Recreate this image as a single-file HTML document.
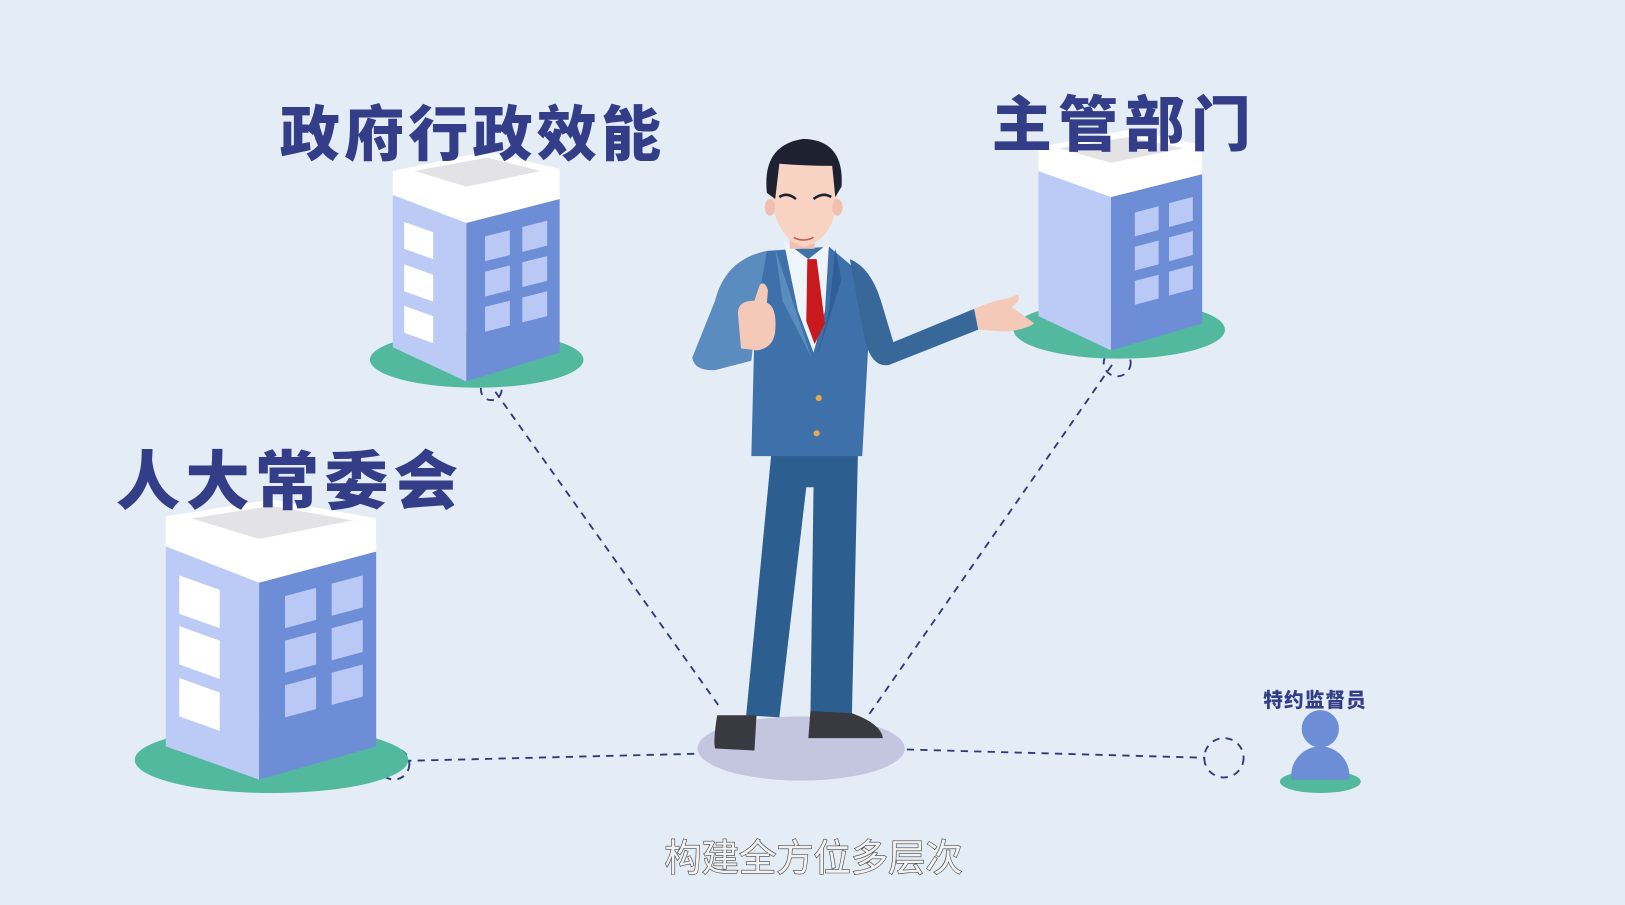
<!DOCTYPE html>
<html><head><meta charset="utf-8"><style>
html,body{margin:0;padding:0;background:#e4edf5;}
svg{display:block}
.t{font-family:"Liberation Sans","Noto Sans CJK SC",sans-serif;font-weight:900;fill:#343d88;}
</style></head><body>
<svg width="1625" height="905" viewBox="0 0 1568 873" preserveAspectRatio="none" xmlns="http://www.w3.org/2000/svg">
<rect width="1568" height="873" fill="#e4edf5"/>
<!-- dashed connectors -->
<g stroke="#2f3a78" stroke-width="1.8" stroke-dasharray="7,6" fill="none">
<line x1="478" y1="378" x2="693" y2="680"/>
<line x1="1073" y1="352" x2="838" y2="690"/>
<line x1="390" y1="734" x2="676" y2="727"/>
<line x1="875" y1="723" x2="1163" y2="731"/>
<circle cx="1181" cy="731" r="19"/>
<circle cx="380" cy="737" r="15"/>
<circle cx="1078" cy="350" r="13"/>
<circle cx="474" cy="376" r="10"/>
</g>
<!-- Building A 政府 -->
<ellipse cx="460" cy="347" rx="103" ry="27" fill="#52b89e"/>
<polygon points="379,188 450,215 450,368 379,335" fill="#bccbf5"/>
<polygon points="450,215 540,192 540,340 450,368" fill="#6d8dd6"/>
<polygon points="379,165 470,146 540,163 540,192 450,215 379,188" fill="#ffffff"/>
<polygon points="400,165 470,152 522,165 450,180" fill="#e3e3e6"/>
<g fill="#fff"><polygon points="390,214 418,224 418,250 390,240"/><polygon points="390,255 418,265 418,291 390,281"/><polygon points="390,295 418,305 418,331 390,321"/></g>
<g fill="#b9c8f4"><polygon points="468,228 492,222 492,246 468,252"/><polygon points="504,219 528,213 528,237 504,243"/><polygon points="468,262 492,256 492,280 468,286"/><polygon points="504,253 528,247 528,271 504,277"/><polygon points="468,296 492,290 492,314 468,320"/><polygon points="504,287 528,281 528,305 504,311"/></g>
<!-- Building B 主管 -->
<ellipse cx="1080" cy="318" rx="102" ry="28" fill="#52b89e"/>
<polygon points="1002,165 1072,190 1072,338 1002,305" fill="#bccbf5"/>
<polygon points="1072,190 1160,168 1160,312 1072,338" fill="#6d8dd6"/>
<polygon points="1002,142 1090,125 1160,140 1160,168 1072,190 1002,165" fill="#fff"/>
<polygon points="1022,143 1090,132 1142,143 1072,157" fill="#e3e3e6"/>
<g fill="#b9c8f4"><polygon points="1095,205 1118,199 1118,222 1095,228"/><polygon points="1128,196 1151,190 1151,213 1128,219"/><polygon points="1095,238 1118,232 1118,255 1095,261"/><polygon points="1128,229 1151,223 1151,246 1128,252"/><polygon points="1095,271 1118,265 1118,288 1095,294"/><polygon points="1128,262 1151,256 1151,279 1128,285"/></g>
<!-- Building C 人大 -->
<ellipse cx="262" cy="733" rx="132" ry="32" fill="#52b89e"/>
<polygon points="160,527 250,562 250,752 160,720" fill="#bccbf5"/>
<polygon points="250,562 363,532 363,720 250,752" fill="#6d8dd6"/>
<polygon points="160,498 262,482 363,500 363,532 250,562 160,527" fill="#fff"/>
<polygon points="185,500 262,488 340,502 250,520" fill="#e3e3e6"/>
<g fill="#fff"><polygon points="173,555 212,569 212,606 173,592"/><polygon points="173,604 212,618 212,655 173,641"/><polygon points="173,654 212,668 212,705 173,691"/></g>
<g fill="#b9c8f4"><polygon points="275,575 305,567 305,598 275,606"/><polygon points="320,563 350,555 350,586 320,594"/><polygon points="275,618 305,610 305,641 275,649"/><polygon points="320,606 350,598 350,629 320,637"/><polygon points="275,661 305,653 305,684 275,692"/><polygon points="320,649 350,641 350,672 320,680"/></g>
<!-- supervisor person -->
<ellipse cx="1274" cy="754" rx="39" ry="11" fill="#52b89e"/>
<circle cx="1274" cy="703" r="18" fill="#6d8dd6"/>
<path d="M1246,752 L1246,748 A28,28 0 0 1 1302,748 L1302,752 Z" fill="#6d8dd6"/>
<!-- man -->
<ellipse cx="773" cy="722" rx="100" ry="31" fill="#c3c6de"/>
<path d="M745,430 L720,690 L752,692 L778,470 L785,470 L782,690 L822,690 L828,430 Z" fill="#2d5e90"/>
<path d="M692,690 Q688,715 690,722 L728,724 L730,690 Z" fill="#383a40"/>
<path d="M782,686 L780,712 L852,712 Q850,698 822,688 Z" fill="#383a40"/>
<!-- jacket -->
<path d="M740,242 L800,238 L832,265 L838,330 L832,440 L725,440 L728,320 Q715,270 740,242 Z" fill="#3e70a9"/>
<!-- left arm -->
<path d="M740,242 Q700,250 690,290 L668,345 Q670,358 690,357 L725,348 L730,300 Z" fill="#5a8cbf"/>
<!-- right arm -->
<path d="M820,250 Q840,258 850,290 L862,330 L940,298 L944,318 L858,352 Q842,355 835,330 Z" fill="#386899"/>
<!-- shirt tie -->
<path d="M756,232 L780,250 L800,234 L796,300 L785,340 L770,300 Z" fill="#eef5f8"/>
<path d="M779,250 L788,250 L796,312 L786,332 L778,310 Z" fill="#c8191f"/>
<path d="M748,240 L768,300 L783,345 L755,290 Z" fill="#5a8cbf"/>
<path d="M806,240 L800,300 L788,345 L812,270 Z" fill="#2f5f96"/>
<circle cx="790" cy="384" r="3" fill="#e6a84d"/><circle cx="788" cy="418" r="3" fill="#e6a84d"/>
<!-- hands -->
<path d="M712,302 Q712,290 728,290 L733,275 Q738,270 741,280 L740,292 Q750,296 748,320 Q746,336 730,338 L715,336 Z" fill="#f4c9b8"/>
<path d="M940,298 Q958,290 972,288 L982,284 Q986,290 976,296 L998,312 Q990,318 970,320 L944,318 Z" fill="#f4c9b8"/>
<!-- neck head -->
<rect x="762" y="215" width="24" height="25" fill="#f0bfae"/>
<path d="M742,170 Q745,230 775,238 Q805,232 808,190 L810,165 Q790,150 745,160 Z" fill="#f8d3c4"/>
<path d="M740,186 Q735,140 775,134 Q815,135 812,180 L806,190 L803,160 Q775,160 752,158 L748,192 Z" fill="#1e2230"/>
<ellipse cx="743" cy="200" rx="5" ry="8" fill="#f0bfae"/>
<ellipse cx="808" cy="200" rx="5" ry="8" fill="#f0bfae"/>
<path d="M766,229 Q775,234 785,229" stroke="#b85a55" stroke-width="1.5" fill="none"/>
<g stroke="#1e2230" stroke-width="2.5" fill="none"><path d="M752,190 Q760,185 768,192"/><path d="M785,192 Q794,185 802,190"/></g>
<!-- titles -->
<text class="t" x="270" y="150" font-size="58" letter-spacing="4">政府行政效能</text>
<text class="t" x="957" y="141" font-size="58" letter-spacing="6">主管部门</text>
<text class="t" x="112" y="486" font-size="62" letter-spacing="5">人大常委会</text>
<text class="t" x="1219" y="682" font-size="19" letter-spacing="1">特约监督员</text>
<text x="785" y="840" text-anchor="middle" font-family="'Liberation Sans','Noto Sans CJK SC',sans-serif" font-size="36" fill="#f2f2f2" stroke="#444" stroke-width="1.2" paint-order="stroke">构建全方位多层次</text>
</svg>
</body></html>
